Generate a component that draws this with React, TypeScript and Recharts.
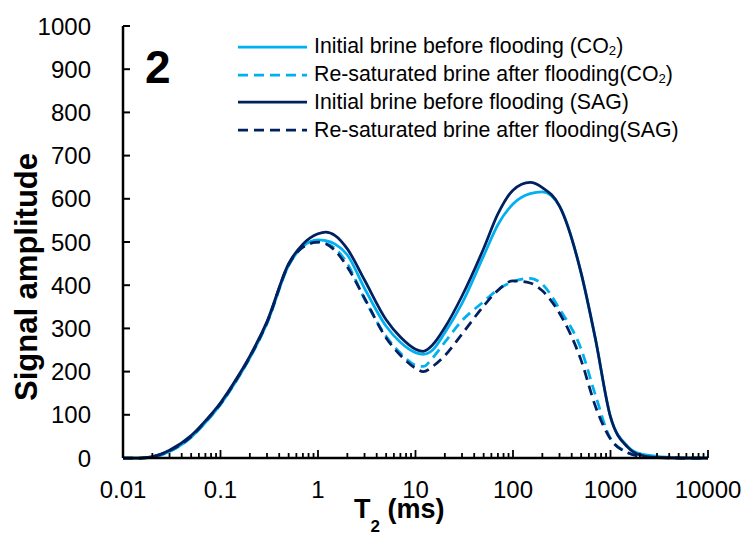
import React from 'react';
import { LineChart, Line, XAxis, YAxis, Legend, Customized } from 'recharts';

// T2 relaxation time (ms)
const t2 = [0.01, 0.015, 0.02, 0.03, 0.05, 0.07, 0.1, 0.15, 0.2, 0.3, 0.5, 0.7, 1, 1.2, 1.5, 2, 3, 5, 7, 10, 12, 15, 20, 30, 50, 70, 100, 150, 200, 300, 500, 700, 1000, 1500, 2000, 3000, 5000, 10000];

const co2Initial = [0, 0, 2, 15, 48, 82, 124, 184, 232, 312, 446, 490, 505, 503, 495, 470, 393, 305, 268, 244, 240, 250, 290, 358, 468, 540, 588, 612, 616, 583, 428, 276, 95, 27, 10, 4, 1, 0];
const co2Resat = [0, 0, 2, 15, 48, 82, 124, 184, 232, 312, 446, 488, 500, 497, 485, 450, 368, 282, 243, 215, 212, 232, 268, 318, 362, 390, 408, 416, 402, 345, 252, 146, 45, 13, 5, 2, 0, 0];
const sagInitial = [0, 0, 3, 18, 52, 86, 128, 188, 236, 316, 450, 495, 519, 523, 515, 484, 412, 320, 280, 252, 247, 262, 302, 375, 485, 565, 620, 638, 626, 583, 428, 276, 95, 25, 7, 1, 0, 0];
const sagResat = [0, 0, 3, 17, 50, 85, 126, 186, 234, 314, 448, 488, 500, 496, 480, 442, 370, 278, 238, 208, 200, 212, 237, 287, 352, 388, 410, 405, 387, 335, 226, 120, 44, 12, 4, 1, 0, 0];

const yTicks = [0, 100, 200, 300, 400, 500, 600, 700, 800, 900, 1000];
const xMajorTicks = [0.01, 0.1, 1, 10, 100, 1000, 10000];
const xTickLabels = ['0.01', '0.1', '1', '10', '100', '1000', '10000'];
const minorMultipliers = [2, 3, 4, 5, 6, 7, 8, 9];

const seriesKeys = ['co2Initial', 'co2Resat', 'sagInitial', 'sagResat'];
const seriesLabels = [
  ['Initial brine before flooding (CO', '2', ')'],
  ['Re-saturated brine after flooding(CO', '2', ')'],
  ['Initial brine before flooding (SAG)', '', ''],
  ['Re-saturated brine after flooding(SAG)', '', ''],
];
const LIGHT = '#00B0F0';
const DARK = '#002060';
const seriesColors = [LIGHT, LIGHT, DARK, DARK];
const seriesDash = [undefined, '10 6', undefined, '10 6'];

const xTicks: number[] = [];
xMajorTicks.forEach((m, i) => {
  xTicks.push(m);
  if (i < xMajorTicks.length - 1) minorMultipliers.forEach((k) => xTicks.push(+(m * k).toPrecision(6)));
});

const data = t2.map((t, i) => ({
  t2: t,
  co2Initial: co2Initial[i],
  co2Resat: co2Resat[i],
  sagInitial: sagInitial[i],
  sagResat: sagResat[i],
}));

const FONT = '"Liberation Sans", Arial, sans-serif';

const YTick = (props: any) => {
  const { x, y, payload } = props;
  return (
    <g>
      <line x1={x} x2={x + 7} y1={y} y2={y} stroke="#000" strokeWidth={2} />
      <text x={x - 32} y={y + 8.5} textAnchor="end" fontSize={24} fontFamily={FONT} fill="#000">
        {payload.value}
      </text>
    </g>
  );
};

const XTick = (props: any) => {
  const { x, y, payload } = props;
  const v = payload.value;
  const idx = xMajorTicks.findIndex((m) => Math.abs(m - v) / m < 1e-6);
  const major = idx >= 0;
  return (
    <g>
      <line x1={x} x2={x} y1={y} y2={y - (major ? 8 : 5)} stroke="#000" strokeWidth={1.8} />
      {major && (
        <text x={x} y={y + 40} textAnchor="middle" fontSize={24} fontFamily={FONT} fill="#000">
          {xTickLabels[idx]}
        </text>
      )}
    </g>
  );
};

const TextLayer = () => (
  <g fontFamily={FONT} fill="#000">
    <text x={145} y={83} fontSize={46} fontWeight="bold">2</text>
    <text x={354} y={518} fontSize={27} fontWeight="bold">
      T<tspan fontSize={17} dy={14}>2</tspan>
      <tspan fontSize={27} dy={-14}> (ms)</tspan>
    </text>
    <text x={37} y={277} fontSize={31} fontWeight="bold" textAnchor="middle" transform="rotate(-90, 37, 277)">
      Signal amplitude
    </text>
  </g>
);

const LegendContent = () => (
  <div style={{ fontFamily: FONT, fontSize: 21.3, color: '#000' }}>
    {seriesKeys.map((k, i) => (
      <div key={k} style={{ display: 'flex', alignItems: 'center', height: 27.8, whiteSpace: 'nowrap' }}>
        <svg width={69} height={6} style={{ display: 'block' }}>
          <line x1={0} x2={69} y1={3} y2={3} stroke={seriesColors[i]} strokeWidth={2.75} strokeDasharray={seriesDash[i]} />
        </svg>
        <span style={{ marginLeft: 7, lineHeight: '21px' }}>
          {seriesLabels[i][0]}
          {seriesLabels[i][1] && (
            <span style={{ fontSize: '0.62em', verticalAlign: '-0.15em', lineHeight: 0 }}>{seriesLabels[i][1]}</span>
          )}
          {seriesLabels[i][2]}
        </span>
      </div>
    ))}
  </div>
);

export default function App() {
  return (
    <div style={{ position: 'absolute', left: 0, top: 0, width: 745, height: 536, background: '#fff' }}>
      <LineChart width={745} height={536} data={data} margin={{ top: 26, right: 37, bottom: 28, left: 0 }}>
        <XAxis
          dataKey="t2"
          type="number"
          scale="log"
          domain={[0.01, 10000]}
          ticks={xTicks}
          interval={0}
          allowDataOverflow
          height={50}
          tickSize={0}
          tickMargin={0}
          tickLine={false}
          tick={<XTick />}
          axisLine={{ stroke: '#000', strokeWidth: 2.5 }}
        />
        <XAxis
          xAxisId="top"
          orientation="top"
          dataKey="t2"
          type="number"
          scale="log"
          domain={[0.01, 10000]}
          allowDataOverflow
          height={0}
          tick={false}
          tickLine={false}
          axisLine={{ stroke: '#000', strokeWidth: 2 }}
        />
        <YAxis
          type="number"
          domain={[0, 1000]}
          ticks={yTicks}
          interval={0}
          width={123}
          tickSize={0}
          tickMargin={0}
          tickLine={false}
          tick={<YTick />}
          axisLine={{ stroke: '#000', strokeWidth: 2.5 }}
        />
        <YAxis
          yAxisId="right"
          orientation="right"
          type="number"
          domain={[0, 1000]}
          width={0}
          tick={false}
          tickLine={false}
          axisLine={{ stroke: '#000', strokeWidth: 2 }}
        />
        {seriesKeys.map((k, i) => (
          <Line
            key={k}
            dataKey={k}
            type="monotone"
            stroke={seriesColors[i]}
            strokeWidth={2.75}
            strokeDasharray={seriesDash[i]}
            dot={false}
            activeDot={false}
            isAnimationActive={false}
          />
        ))}
        <Legend
          layout="vertical"
          align="center"
          verticalAlign="middle"
          content={<LegendContent />}
          wrapperStyle={{ top: 33, left: 238, width: 'auto', height: 'auto' }}
        />
        <Customized component={TextLayer} />
      </LineChart>
    </div>
  );
}
